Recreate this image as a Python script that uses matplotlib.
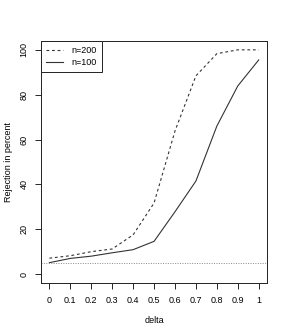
import matplotlib
matplotlib.use('Agg')
import matplotlib.pyplot as plt

# data
delta = [0, 0.1, 0.2, 0.3, 0.4, 0.5, 0.6, 0.7, 0.8, 0.9, 1.0]
rej_200 = [7.1, 8.2, 10.0, 11.2, 17.5, 31.7, 63.8, 88.4, 98.3, 100, 100]
rej_100 = [5.1, 7.0, 8.0, 9.5, 10.9, 14.6, 27.8, 41.5, 66.0, 83.9, 95.5]
alpha_level = 5

x_ticks = [0, 0.1, 0.2, 0.3, 0.4, 0.5, 0.6, 0.7, 0.8, 0.9, 1]
x_ticklabels = ['0', '0.1', '0.2', '0.3', '0.4', '0.5', '0.6', '0.7', '0.8', '0.9', '1']
y_ticks = [0, 20, 40, 60, 80, 100]

plt.rcParams['font.family'] = ['Liberation Sans', 'DejaVu Sans']

fig = plt.figure(figsize=(2.88, 3.35), dpi=100)
ax = fig.add_axes([0.1424, 0.155, 0.785, 0.723])

ax.plot(delta, rej_200, color='#333333', lw=0.8, linestyle=(0, (2.5, 2.5)), label='n=200')
ax.plot(delta, rej_100, color='#333333', lw=0.8, label='n=100')
ax.axhline(alpha_level, color='#888888', lw=0.7, linestyle=(0, (1, 1.5)))

ax.set_xlim(-0.04, 1.04)
ax.set_ylim(-4, 104)
ax.set_xticks(x_ticks)
ax.set_xticklabels(x_ticklabels)
ax.set_yticks(y_ticks)
ax.set_yticklabels([str(v) for v in y_ticks], rotation=90, va='center')

ax.tick_params(direction='out', length=4, width=0.6, labelsize=6.5, pad=5)
for s in ax.spines.values():
    s.set_linewidth(0.7)
    s.set_color('#222222')

ax.set_xlabel('delta', fontsize=6.5, labelpad=8)
ax.set_ylabel('Rejection in percent', fontsize=6.5, labelpad=5)

leg = ax.legend(loc='upper left', borderaxespad=0, fancybox=False,
                edgecolor='#222222', framealpha=1, fontsize=6.5,
                handlelength=1.8, handletextpad=1.0, borderpad=0.6,
                labelspacing=0.3)
leg.get_frame().set_linewidth(0.7)

plt.savefig('out.png', dpi=100)
